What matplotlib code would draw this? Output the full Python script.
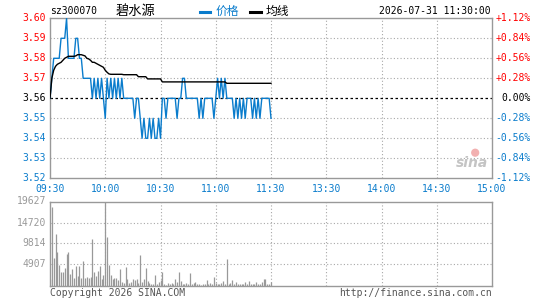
import matplotlib
matplotlib.use("Agg")
import matplotlib.pyplot as plt
from matplotlib.lines import Line2D
import numpy as np

# minute-by-minute data, 09:30 .. 11:30 (121 points)
price = [3.56, 3.57, 3.58, 3.58, 3.58, 3.58, 3.59, 3.59, 3.59, 3.60,
         3.58, 3.58, 3.58, 3.58, 3.59, 3.59, 3.58, 3.58, 3.57, 3.57,
         3.57, 3.57, 3.57, 3.56, 3.57, 3.56, 3.57, 3.56, 3.57, 3.56,
         3.55, 3.57, 3.56, 3.57, 3.56, 3.57, 3.56, 3.57, 3.56, 3.57,
         3.56, 3.56, 3.56, 3.56, 3.56, 3.56, 3.55, 3.56, 3.56, 3.55,
         3.54, 3.55, 3.54, 3.54, 3.55, 3.54, 3.55, 3.54, 3.54, 3.55,
         3.54, 3.56, 3.56, 3.55, 3.56, 3.56, 3.56, 3.56, 3.56, 3.55,
         3.56, 3.56, 3.57, 3.57, 3.56, 3.56, 3.56, 3.56, 3.56, 3.56,
         3.56, 3.55, 3.56, 3.55, 3.56, 3.56, 3.56, 3.56, 3.56, 3.55,
         3.56, 3.57, 3.56, 3.57, 3.56, 3.57, 3.56, 3.56, 3.56, 3.56,
         3.55, 3.56, 3.55, 3.56, 3.55, 3.56, 3.55, 3.56, 3.56, 3.56,
         3.55, 3.56, 3.55, 3.56, 3.55, 3.56, 3.56, 3.56, 3.56, 3.56,
         3.55]

avg = [3.5600, 3.5700, 3.5740, 3.5760, 3.5770, 3.5775, 3.5780, 3.5790, 3.5800, 3.5805,
       3.5810, 3.5810, 3.5810, 3.5810, 3.5812, 3.5818, 3.5818, 3.5818, 3.5815, 3.5812,
       3.5800, 3.5797, 3.5790, 3.5780, 3.5780, 3.5775, 3.5770, 3.5765, 3.5760, 3.5755,
       3.5740, 3.5730, 3.5722, 3.5720, 3.5720, 3.5720, 3.5720, 3.5720, 3.5720, 3.5720,
       3.5718, 3.5718, 3.5718, 3.5718, 3.5718, 3.5718, 3.5718, 3.5718, 3.5708, 3.5708,
       3.5708, 3.5708, 3.5708, 3.5697, 3.5697, 3.5697, 3.5697, 3.5697, 3.5697, 3.5697,
       3.5697, 3.5682, 3.5682, 3.5682, 3.5682, 3.5682, 3.5682, 3.5682, 3.5682, 3.5682,
       3.5682, 3.5682, 3.5682, 3.5682, 3.5682, 3.5682, 3.5682, 3.5682, 3.5682, 3.5682,
       3.5682, 3.5682, 3.5682, 3.5682, 3.5682, 3.5682, 3.5682, 3.5682, 3.5682, 3.5682,
       3.5682, 3.5682, 3.5682, 3.5682, 3.5682, 3.5682, 3.5675, 3.5675, 3.5675, 3.5675,
       3.5675, 3.5675, 3.5675, 3.5675, 3.5675, 3.5675, 3.5675, 3.5675, 3.5675, 3.5675,
       3.5675, 3.5675, 3.5675, 3.5675, 3.5675, 3.5675, 3.5675, 3.5675, 3.5675, 3.5675,
       3.5675]

volume = [1480, 18384, 6466, 12000, 7790, 4900, 3200, 3200, 4050, 7320,
          7790, 2730, 3820, 1710, 4520, 2180, 4520, 1710, 5840, 1790,
          1950, 1710, 2000, 10830, 3120, 2180, 3350, 4520, 1480, 2340,
          19627, 11300, 4750, 2340, 1480, 1710, 1790, 1250, 3820, 780,
          620, 4280, 1480, 620, 860, 1480, 1250, 1480, 500, 7170,
          780, 1480, 4050, 1090, 620, 460, 300, 2410, 460, 780,
          1170, 3120, 300, 230, 700, 460, 700, 300, 1480, 780,
          3120, 1010, 460, 300, 700, 460, 2880, 460, 620, 780,
          300, 460, 230, 300, 300, 1250, 460, 700, 300, 1870,
          620, 300, 460, 620, 1010, 300, 6150, 300, 620, 1250,
          300, 780, 460, 460, 460, 460, 780, 460, 1010, 300,
          460, 460, 780, 300, 460, 780, 1480, 1480, 460, 300,
          780]

prev_close = 3.56
price_levels = [3.60, 3.59, 3.58, 3.57, 3.56, 3.55, 3.54, 3.53, 3.52]
pct_labels = ['+1.12%', '+0.84%', '+0.56%', '+0.28%', '0.00%',
              '-0.28%', '-0.56%', '-0.84%', '-1.12%']
time_labels = ['09:30', '10:00', '10:30', '11:00', '11:30',
               '13:30', '14:00', '14:30', '15:00']
vol_ticks = [19627, 14720, 9814, 4907]

BLUE = '#0a7ccc'
RED = '#ff0000'
GREY = '#999999'
GRID = '#a8a8a8'
MONO = 'DejaVu Sans Mono'
CJK = ['Noto Sans CJK SC', 'DejaVu Sans']

W, H = 545, 300
fig = plt.figure(figsize=(W / 100, H / 100), dpi=100)
fig.patch.set_facecolor('white')

ax = fig.add_axes([50 / W, 1 - 178.3 / H, 442 / W, 160 / H])
axv = fig.add_axes([50 / W, 1 - 285.5 / H, 442 / W, 84 / H])

minutes = np.arange(len(price))
xt = np.arange(0, 241, 30)

for a in (ax, axv):
    a.set_xlim(0, 240)
    a.set_xticks([])
    a.set_yticks([])
    for s in a.spines.values():
        s.set_color(GREY)
        s.set_linewidth(1.0)
    for t in xt[1:-1]:
        a.axvline(t, color=GRID, lw=0.8, ls=(0, (1, 2)), zorder=0)

# price panel
ax.set_ylim(3.52, 3.60)
for lv in price_levels[1:-1]:
    if lv == prev_close:
        ax.axhline(lv, color='black', lw=0.9, ls=(0, (2, 2)), zorder=1)
    else:
        ax.axhline(lv, color=GRID, lw=0.8, ls=(0, (1, 2)), zorder=0)

ax.plot(minutes, price, color=BLUE, lw=1.0, zorder=3)
ax.plot(minutes, avg, color='black', lw=1.0, zorder=4)

for lv, pl in zip(price_levels, pct_labels):
    if lv > prev_close:
        c = RED
    elif lv < prev_close:
        c = BLUE
    else:
        c = 'black'
    ax.text(-0.009, lv, f'{lv:.2f}', transform=ax.get_yaxis_transform(),
            ha='right', va='center', color=c, fontsize=7, family=MONO)
    ax.text(1.088, lv, pl, transform=ax.get_yaxis_transform(),
            ha='right', va='center', color=c, fontsize=7, family=MONO)

for t, lab in zip(xt, time_labels):
    ax.text(t, -0.067, lab, transform=ax.get_xaxis_transform(),
            ha='center', va='center', color=BLUE, fontsize=7, family=MONO)

# sina watermark
ax.text(0.955, 0.05, 'sina', transform=ax.transAxes, ha='center', va='bottom',
        fontsize=10, style='italic', weight='bold', color='#c4c4c4', zorder=2)
ax.scatter([0.962], [0.16], s=35, transform=ax.transAxes, color='#f2b0b0',
           edgecolors='none', zorder=2)

# volume panel
axv.set_ylim(0, max(volume))
for v in vol_ticks[1:]:
    axv.axhline(v, color=GRID, lw=0.8, ls=(0, (1, 2)), zorder=0)
axv.vlines(minutes, 0, volume, color=GREY, lw=0.9, zorder=2)
for v in vol_ticks:
    axv.text(-0.009, v, str(v), transform=axv.get_yaxis_transform(),
             ha='right', va='center', color=GREY, fontsize=7, family=MONO)

# header
fig.text(50 / W, 1 - 11 / H, 'sz300070', ha='left', va='center',
         fontsize=7, family=MONO, color='black')
fig.text(116 / W, 1 - 11 / H, '碧水源', ha='left', va='center',
         fontsize=9.5, family=CJK, color='black')
fig.add_artist(Line2D([200 / W, 210 / W], [1 - 11.5 / H] * 2, lw=2.2, color=BLUE))
fig.text(216 / W, 1 - 11 / H, '价格', ha='left', va='center',
         fontsize=8.5, family=CJK, color=BLUE)
fig.add_artist(Line2D([250 / W, 261 / W], [1 - 11.5 / H] * 2, lw=2.2, color='black'))
fig.text(266 / W, 1 - 11 / H, '均线', ha='left', va='center',
         fontsize=8.5, family=CJK, color='black')
fig.text(491 / W, 1 - 11 / H, '2026-07-31 11:30:00', ha='right', va='center',
         fontsize=7, family=MONO, color='black')

# footer
fig.text(50 / W, 1 - 293 / H, 'Copyright 2026 SINA.COM', ha='left', va='center',
         fontsize=7, family=MONO, color='#555555')
fig.text(492 / W, 1 - 293 / H, 'http://finance.sina.com.cn', ha='right', va='center',
         fontsize=7, family=MONO, color='#555555')

fig.savefig('out.png', dpi=100)
